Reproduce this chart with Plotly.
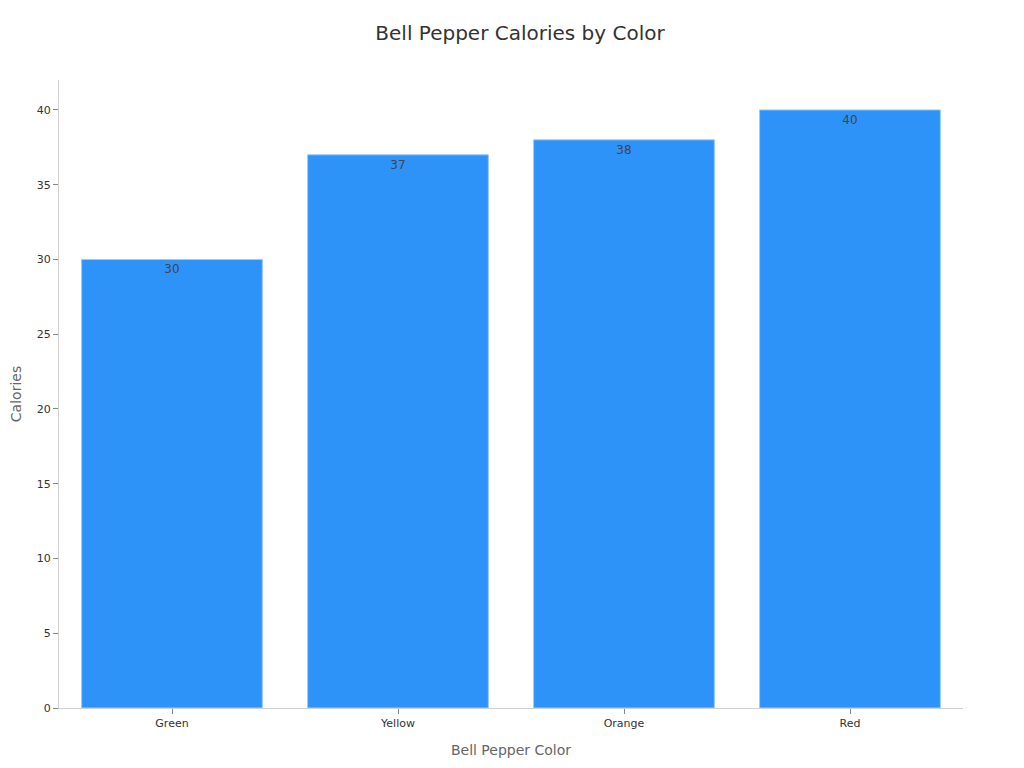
import plotly.graph_objects as go

# Bell pepper calories per color
colors = ['Green', 'Yellow', 'Orange', 'Red']
calories = [30, 37, 38, 40]

fig = go.Figure()
fig.add_trace(go.Bar(
    x=colors,
    y=calories,
    text=calories,
    textposition='inside',
    insidetextanchor='end',
    textfont=dict(color='#444444', size=12),
    marker=dict(color='#2E93F9', line=dict(color='#9CCBFB', width=1)),
))

fig.update_layout(
    width=1024,
    height=768,
    title=dict(text='Bell Pepper Calories by Color', x=0.5, xanchor='center', y=0.976,
               font=dict(size=20, color='#333333')),
    font=dict(family='DejaVu Sans, sans-serif', color='#333333'),
    plot_bgcolor='white',
    paper_bgcolor='white',
    margin=dict(l=51, r=69, t=72, b=68),
    bargap=0.2,
    showlegend=False,
)
fig.update_xaxes(
    title=dict(text='Bell Pepper Color', font=dict(size=14, color='#666666'), standoff=15),
    showline=True, linecolor='#d0d0d0', linewidth=1,
    ticks='outside', tickcolor='#888888', ticklen=5,
    tickfont=dict(size=11, color='#333333'),
    showgrid=False, automargin=False,
)
fig.update_yaxes(
    title=dict(text='Calories', font=dict(size=14, color='#666666'), standoff=15),
    range=[0, 42],
    dtick=5,
    showline=True, linecolor='#d0d0d0', linewidth=1,
    ticks='outside', tickcolor='#888888', ticklen=5,
    tickfont=dict(size=11, color='#333333'),
    showgrid=False, zeroline=False, automargin=False,
)

fig.write_html("out.html")
